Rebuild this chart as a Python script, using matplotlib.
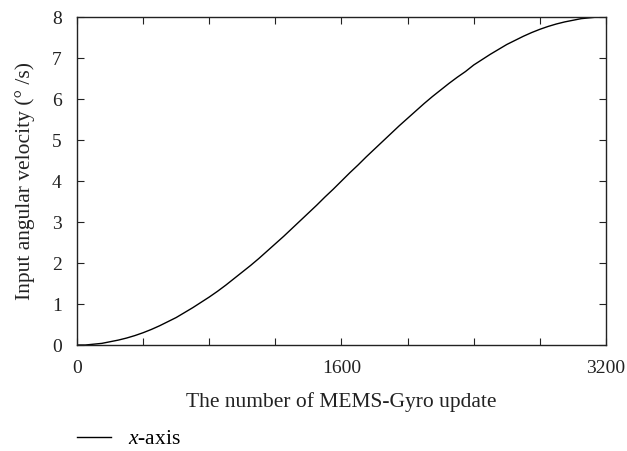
import matplotlib.pyplot as plt
from matplotlib.ticker import MultipleLocator

plt.rcParams['font.family'] = ['Liberation Serif', 'DejaVu Serif']
plt.rcParams['mathtext.fontset'] = 'custom'
plt.rcParams['mathtext.it'] = 'Liberation Serif:italic'
plt.rcParams['mathtext.rm'] = 'Liberation Serif'

# data (every 50 updates)
updates = [0, 50, 100, 150, 200, 250, 300, 350, 400, 450, 500, 550, 600,
           650, 700, 750, 800, 850, 900, 950, 1000, 1050, 1100, 1150, 1200,
           1250, 1300, 1350, 1400, 1450, 1500, 1550, 1600, 1650, 1700, 1750,
           1800, 1850, 1900, 1950, 2000, 2050, 2100, 2150, 2200, 2250, 2300,
           2350, 2400, 2450, 2500, 2550, 2600, 2650, 2700, 2750, 2800, 2850,
           2900, 2950, 3000, 3050, 3100, 3150, 3200]
velocity_x = [0.00, 0.00, 0.02, 0.04, 0.08, 0.12, 0.17, 0.23, 0.30, 0.38,
              0.47, 0.57, 0.67, 0.79, 0.91, 1.04, 1.17, 1.31, 1.46, 1.62,
              1.78, 1.94, 2.11, 2.29, 2.47, 2.65, 2.84, 3.03, 3.22, 3.41,
              3.61, 3.80, 4.00, 4.20, 4.39, 4.59, 4.78, 4.97, 5.16, 5.35,
              5.53, 5.71, 5.89, 6.06, 6.22, 6.38, 6.53, 6.67, 6.83, 6.96,
              7.09, 7.21, 7.33, 7.43, 7.53, 7.62, 7.70, 7.77, 7.83, 7.88,
              7.92, 7.96, 7.98, 8.00, 8.00]
x_ticks = [0, 1600, 3200]

fs_tick = 14
fs_text = 15.5
ink = '#222222'

fig = plt.figure(figsize=(6.27, 4.51), dpi=100)
ax = fig.add_axes([0.1228, 0.235, 0.8437, 0.7273])

line, = ax.plot(updates, velocity_x, color='black', lw=1.0, label='$x$-axis')

ax.set_xlim(0, 3200)
ax.set_ylim(0, 8)
ax.set_xticks(x_ticks)
ax.xaxis.set_minor_locator(MultipleLocator(400))
ax.yaxis.set_major_locator(MultipleLocator(1))
ax.tick_params(which='both', direction='in', top=True, right=True,
               length=5, width=0.8, labelsize=fs_tick, colors=ink)
ax.tick_params(axis='x', pad=11)
ax.tick_params(axis='y', pad=11)
for s in ax.spines.values():
    s.set_linewidth(1.0)
    s.set_color(ink)

ax.set_xlabel('The number of MEMS-Gyro update', fontsize=fs_text, labelpad=11, color=ink)
ax.set_ylabel('Input angular velocity (° /s)', fontsize=fs_text, labelpad=12, color=ink)

fig.legend(handles=[line], loc='center left', bbox_to_anchor=(0.1228, 1 - 439 / 451),
           frameon=False, fontsize=fs_text, handlelength=1.6, handletextpad=0.75,
           borderpad=0, borderaxespad=0)

plt.savefig('out.png', dpi=100)
